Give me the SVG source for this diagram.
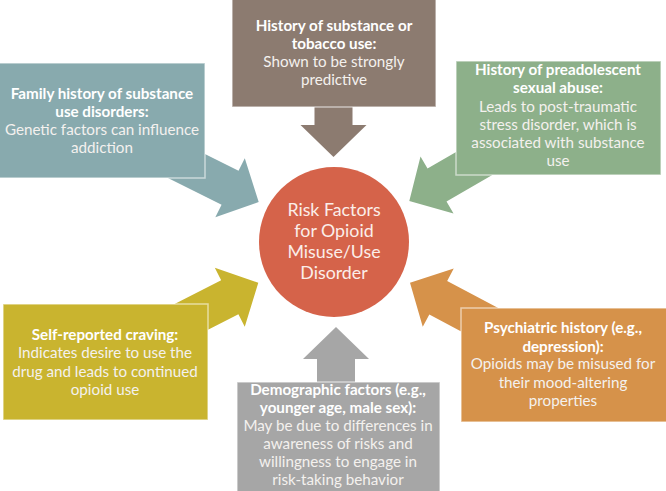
<svg xmlns="http://www.w3.org/2000/svg" xmlns:xlink="http://www.w3.org/1999/xlink" width="666" height="491" viewBox="0 0 666 491">
  <defs>
    <path id="arrow" d="M0,0 L-32,-33 L-32,-19 L-125,-19 L-125,19 L-32,19 L-32,33 Z"/>
    <style>
      .box { stroke: #ffffff; stroke-opacity: 0.55; stroke-width: 1.5; }
      .t { font-family: Lato, "Liberation Sans", sans-serif; font-size: 15.2px; fill: #ffffff; text-anchor: middle; }
      .b { font-weight: bold; }
      .r { fill: #f4f1ee; }
      .c { font-family: Lato, "Liberation Sans", sans-serif; font-size: 17.8px; fill: #fbeee9; text-anchor: middle; }
      .brown { fill: #8c7b70; }
      .teal { fill: #88aaae; }
      .green { fill: #8db08a; }
      .yellow { fill: #c9b42f; }
      .gray { fill: #a6a6a6; }
      .orange { fill: #d6924a; }
    </style>
  </defs>
  <rect width="666" height="491" fill="#ffffff"/>

  <g id="connectors">
    <use xlink:href="#arrow" href="#arrow" class="brown" transform="translate(333.5,157) rotate(90)"/>
    <use xlink:href="#arrow" href="#arrow" class="teal" transform="translate(258.7,202) rotate(26.5)"/>
    <use xlink:href="#arrow" href="#arrow" class="green" transform="translate(409.3,201) rotate(150)"/>
    <use xlink:href="#arrow" href="#arrow" class="yellow" transform="translate(258.3,282.7) rotate(-27)"/>
    <use xlink:href="#arrow" href="#arrow" class="orange" transform="translate(410,282.7) rotate(208)"/>
    <use xlink:href="#arrow" href="#arrow" class="gray" transform="translate(336,327) rotate(-90)"/>
  </g>

  <g id="node-substance">
    <rect class="box brown" x="232" y="-2" width="204" height="109"/>
    <text class="t b" x="334" y="31">History of substance or</text>
    <text class="t b" x="334" y="49">tobacco use:</text>
    <text class="t r" x="334" y="67">Shown to be strongly</text>
    <text class="t r" x="334" y="85">predictive</text>
  </g>

  <g id="node-family">
    <rect class="box teal" x="-2" y="63" width="207" height="115"/>
    <text class="t b" x="102" y="99">Family history of substance</text>
    <text class="t b" x="102" y="117">use disorders:</text>
    <text class="t r" x="102" y="135">Genetic factors can influence</text>
    <text class="t r" x="102" y="153">addiction</text>
  </g>

  <g id="node-abuse">
    <rect class="box green" x="456" y="61" width="205" height="114"/>
    <text class="t b" x="558" y="75">History of preadolescent</text>
    <text class="t b" x="558" y="93">sexual abuse:</text>
    <text class="t r" x="558" y="112">Leads to post-traumatic</text>
    <text class="t r" x="558" y="130">stress disorder, which is</text>
    <text class="t r" x="558" y="148">associated with substance</text>
    <text class="t r" x="558" y="166">use</text>
  </g>

  <g id="node-craving">
    <rect class="box yellow" x="3" y="304" width="205" height="116"/>
    <text class="t b" x="105" y="340">Self-reported craving:</text>
    <text class="t r" x="105" y="358">Indicates desire to use the</text>
    <text class="t r" x="105" y="377">drug and leads to continued</text>
    <text class="t r" x="105" y="395">opioid use</text>
  </g>

  <g id="node-demographic">
    <rect class="box gray" x="237" y="382" width="203" height="112"/>
    <text class="t b" x="338" y="395">Demographic factors (e.g.,</text>
    <text class="t b" x="338" y="413">younger age, male sex):</text>
    <text class="t r" x="338" y="431">May be due to differences in</text>
    <text class="t r" x="338" y="449">awareness of risks and</text>
    <text class="t r" x="338" y="467">willingness to engage in</text>
    <text class="t r" x="338" y="485">risk-taking behavior</text>
  </g>

  <g id="node-psychiatric">
    <rect class="box orange" x="461" y="308" width="207" height="114"/>
    <text class="t b" x="563" y="333">Psychiatric history (e.g.,</text>
    <text class="t b" x="563" y="352">depression):</text>
    <text class="t r" x="563" y="369">Opioids may be misused for</text>
    <text class="t r" x="563" y="388">their mood-altering</text>
    <text class="t r" x="563" y="406">properties</text>
  </g>

  <g id="node-center">
    <circle cx="334" cy="242" r="75" fill="#d5634a"/>
    <text class="c" x="334" y="216">Risk Factors</text>
    <text class="c" x="334" y="237">for Opioid</text>
    <text class="c" x="334" y="258">Misuse/Use</text>
    <text class="c" x="334" y="279">Disorder</text>
  </g>
</svg>
